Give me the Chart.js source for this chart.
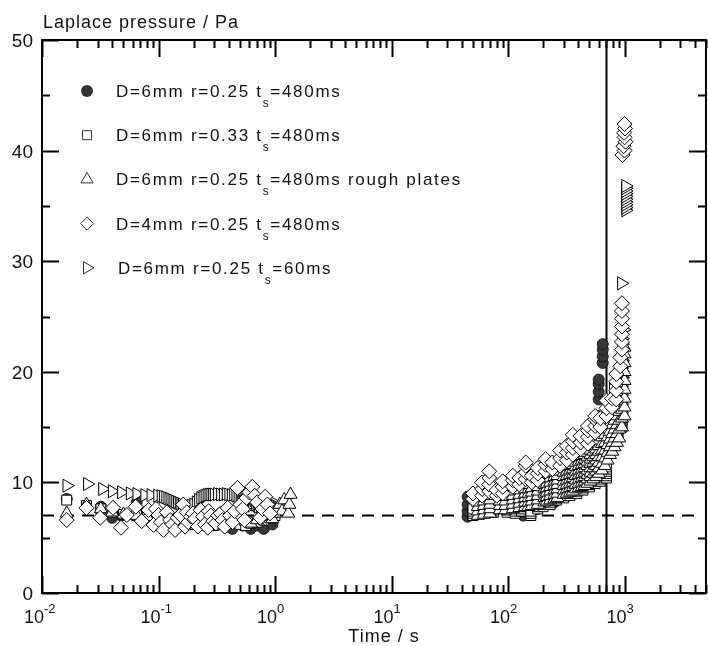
<!DOCTYPE html>
<html>
<head>
<meta charset="utf-8">
<script src="https://cdn.jsdelivr.net/npm/chart.js@4.4.1/dist/chart.umd.min.js"></script>
<style>
  html, body { margin: 0; padding: 0; background: #fff; overflow: hidden; }
  #wrap { width: 708px; height: 646px; }
</style>
</head>
<body>
<div id="wrap"><canvas id="chart"></canvas></div>
<script>
// axis ranges and ticks (the right axis of the figure sits just past the crop, at 5000 s)
const xMin = 0.01, xMax = 4400, xAxisEnd = 5000;
const yMin = 0, yMax = 50;
const yTicks = [0, 10, 20, 30, 40, 50];
const xDecades = [-2, -1, 0, 1, 2, 3];
const baseLine = 7;     // dashed line, Pa
const markTime = 700;   // vertical line, s

// [time in s, pressure in Pa]
const circlePts = [
  [0.0163, 8.5], [0.032, 7.8], [0.040, 6.8], [0.048, 7.0], [0.065, 8.2], [0.08, 7.4], [0.10, 7.0],
  [0.13, 6.7], [0.17, 6.5], [0.22, 6.4], [0.30, 6.3], [0.38, 6.0], [0.43, 5.8], [0.53, 6.1],
  [0.62, 5.8], [0.71, 6.1], [0.80, 5.8], [0.95, 6.2],
  [45, 6.9], [45, 7.4], [45, 8.0], [45, 8.7], [89, 7.8], [89, 8.3], [89, 8.7], [89, 9.0],
  [135, 7.0], [135, 7.4], [180, 7.6], [180, 8.3], [250, 8.2], [250, 9.0], [350, 9.0], [350, 10.0],
  [450, 10.2], [450, 11.3], [540, 12.0], [540, 13.2], [590, 14.5], [590, 16.0],
  [600, 17.5], [600, 18.2], [600, 18.9], [600, 19.3], [650, 20.8], [650, 21.4], [650, 22.0], [650, 22.5]
];

const squarePts = [
  [0.0163, 8.4], [0.0241, 7.9], [0.032, 7.6], [0.040, 7.3], [0.050, 7.1], [0.065, 7.0], [0.08, 6.8],
  [0.10, 6.6], [0.13, 6.4], [0.16, 6.3], [0.20, 6.2], [0.25, 6.1], [0.30, 6.1], [0.36, 6.2],
  [0.42, 6.3], [0.50, 6.2], [0.56, 6.1], [0.62, 6.3], [0.70, 6.4], [0.80, 6.6], [0.90, 6.8], [1.0, 7.0],
  [50, 7.0], [50, 7.2], [50, 7.4], [50, 7.6],
  [60, 7.2], [60, 7.4], [60, 7.6], [60, 7.8], [60, 8.0], [60, 8.2], [60, 8.4],
  [75, 7.3], [75, 7.5], [75, 7.7], [75, 7.9], [75, 8.1],
  [98, 7.3], [98, 7.5], [98, 7.7], [98, 7.9], [98, 8.1], [98, 8.3],
  [115, 7.2], [115, 7.4], [115, 7.6], [115, 7.8],
  [130, 7.4], [130, 7.6], [130, 7.8], [130, 8.0], [130, 8.2], [130, 8.4], [130, 8.6],
  [157, 7.0], [157, 7.2], [157, 7.4],
  [180, 7.6], [180, 7.8], [180, 8.0], [180, 8.2], [180, 8.4], [180, 8.6],
  [200, 7.8], [200, 8.0], [200, 8.2], [200, 8.4], [200, 8.6], [200, 8.8], [200, 9.0], [200, 9.2],
  [230, 8.0], [230, 8.2], [230, 8.4], [230, 8.6], [230, 8.8], [230, 9.0],
  [260, 8.4], [260, 8.6], [260, 8.8], [260, 9.0], [260, 9.2], [260, 9.4], [260, 9.6], [260, 9.8],
  [300, 8.6], [300, 8.8], [300, 9.0], [300, 9.2], [300, 9.4], [300, 9.6],
  [340, 8.8], [340, 9.0], [340, 9.2], [340, 9.4], [340, 9.6], [340, 9.8], [340, 10.0], [340, 10.2],
  [340, 10.4], [340, 10.6],
  [390, 9.0], [390, 9.2], [390, 9.4], [390, 9.6], [390, 9.8], [390, 10.0], [390, 10.2],
  [440, 9.3], [440, 9.5], [440, 9.7], [440, 9.9], [440, 10.1], [440, 10.3], [440, 10.5], [440, 10.7],
  [440, 10.9], [440, 11.1],
  [500, 9.6], [500, 9.8], [500, 10.0], [500, 10.2], [500, 10.4], [500, 10.6], [500, 10.8],
  [560, 9.9], [560, 10.1], [560, 10.3], [560, 10.5], [560, 10.7], [560, 10.9], [560, 11.1], [560, 11.3],
  [560, 11.5], [560, 11.7],
  [620, 10.1], [620, 10.3], [620, 10.5], [620, 10.7], [620, 10.9], [620, 11.1],
  [700, 10.4], [700, 10.6], [700, 10.8], [700, 11.0], [700, 11.2], [700, 11.4], [700, 11.6], [700, 11.8],
  [800, 13.5], [800, 13.8], [800, 14.1], [800, 14.4], [800, 14.7], [800, 15.0], [800, 15.3], [800, 15.6],
  [800, 15.9],
  [880, 14.5], [880, 14.8], [880, 15.1], [880, 15.4], [880, 15.7], [880, 16.0], [880, 16.3],
  [950, 15.0], [950, 15.3], [950, 15.6], [950, 15.9], [950, 16.2], [950, 16.5], [950, 16.8], [950, 17.1],
  [950, 17.4], [950, 17.7], [950, 18.0], [950, 18.3], [950, 18.6], [950, 18.9], [950, 19.2], [950, 19.5],
  [950, 19.8]
];

const trianglePts = [
  [0.0163, 7.2], [0.0241, 8.0], [0.032, 7.6], [0.040, 7.3], [0.050, 7.1], [0.065, 7.0], [0.08, 6.9],
  [0.10, 6.8], [0.13, 6.6], [0.16, 6.5], [0.20, 6.6], [0.25, 6.7], [0.30, 6.8], [0.36, 7.0], [0.42, 7.1],
  [0.50, 6.9], [0.56, 6.5], [0.62, 6.3], [0.70, 6.6], [0.80, 6.9], [0.90, 7.0], [0.95, 6.7], [1.0, 7.2],
  [1.05, 7.6], [1.10, 8.0], [1.15, 7.4], [1.20, 8.4], [1.30, 7.2], [1.33, 8.0], [1.36, 8.9],
  [55, 7.0], [55, 7.4], [55, 7.8], [55, 8.2], [55, 8.6], [55, 9.0],
  [62, 7.1], [62, 7.5], [62, 7.9], [62, 8.3], [62, 8.7],
  [70, 7.2], [70, 7.6], [70, 8.0], [70, 8.4], [70, 8.8],
  [85, 7.5], [85, 7.9], [85, 8.3], [85, 8.7],
  [95, 7.5], [95, 7.9], [95, 8.3], [95, 8.7], [95, 9.1],
  [110, 7.6], [110, 8.0], [110, 8.4], [110, 8.8], [110, 9.2], [110, 9.6],
  [125, 7.7], [125, 8.1], [125, 8.5], [125, 8.9], [125, 9.3],
  [140, 7.8], [140, 8.2], [140, 8.6], [140, 9.0], [140, 9.4], [140, 9.8],
  [150, 7.8], [150, 8.2], [150, 8.6], [150, 9.0], [150, 9.4], [150, 9.8],
  [160, 7.9], [160, 8.3], [160, 8.7], [160, 9.1], [160, 9.5],
  [180, 8.0], [180, 8.4], [180, 8.8], [180, 9.2], [180, 9.6], [180, 10.0], [180, 10.4],
  [205, 8.2], [205, 8.6], [205, 9.0], [205, 9.4], [205, 9.8], [205, 10.2],
  [215, 8.3], [215, 8.7], [215, 9.1], [215, 9.5], [215, 9.9], [215, 10.3], [215, 10.7],
  [230, 8.4], [230, 8.8], [230, 9.2], [230, 9.6], [230, 10.0], [230, 10.4], [230, 10.8], [230, 11.2],
  [250, 8.5], [250, 8.9], [250, 9.3], [250, 9.7], [250, 10.1], [250, 10.5], [250, 10.9],
  [265, 8.6], [265, 9.0], [265, 9.4], [265, 9.8], [265, 10.2], [265, 10.6], [265, 11.0],
  [300, 8.9], [300, 9.3], [300, 9.7], [300, 10.1], [300, 10.5], [300, 10.9], [300, 11.3], [300, 11.7],
  [320, 9.0], [320, 9.4], [320, 9.8], [320, 10.2], [320, 10.6], [320, 11.0], [320, 11.4], [320, 11.8],
  [340, 9.1], [340, 9.5], [340, 9.9], [340, 10.3], [340, 10.7], [340, 11.1], [340, 11.5], [340, 11.9],
  [360, 9.2], [360, 9.6], [360, 10.0], [360, 10.4], [360, 10.8], [360, 11.2], [360, 11.6], [360, 12.0], [360, 12.4],
  [380, 9.4], [380, 9.8], [380, 10.2], [380, 10.6], [380, 11.0], [380, 11.4], [380, 11.8], [380, 12.2], [380, 12.6],
  [405, 9.5], [405, 9.9], [405, 10.3], [405, 10.7], [405, 11.1], [405, 11.5], [405, 11.9], [405, 12.3], [405, 12.7],
  [430, 9.6], [430, 10.0], [430, 10.4], [430, 10.8], [430, 11.2], [430, 11.6], [430, 12.0], [430, 12.4], [430, 12.8],
  [455, 9.7], [455, 10.1], [455, 10.5], [455, 10.9], [455, 11.3], [455, 11.7], [455, 12.1], [455, 12.5],
  [455, 12.9], [455, 13.2],
  [480, 9.9], [480, 10.3], [480, 10.7], [480, 11.1], [480, 11.5], [480, 11.9], [480, 12.3], [480, 12.7],
  [480, 13.1], [480, 13.5],
  [510, 10.1], [510, 10.5], [510, 10.9], [510, 11.3], [510, 11.7], [510, 12.1], [510, 12.5], [510, 12.9],
  [510, 13.3], [510, 13.7],
  [540, 10.3], [540, 10.8], [540, 11.3], [540, 11.8], [540, 12.3], [540, 12.8], [540, 13.3], [540, 13.8],
  [570, 10.5], [570, 11.0], [570, 11.5], [570, 12.0], [570, 12.5], [570, 13.0], [570, 13.5], [570, 14.0],
  [600, 10.8], [600, 11.3], [600, 11.8], [600, 12.3], [600, 12.8], [600, 13.3], [600, 13.8], [600, 14.3],
  [640, 11.1], [640, 11.7], [640, 12.3], [640, 12.9], [640, 13.5], [640, 14.1], [640, 14.7], [640, 15.3],
  [680, 11.5], [680, 12.2], [680, 12.9], [680, 13.6], [680, 14.3], [680, 15.0], [680, 15.7],
  [715, 12.0], [715, 12.7], [715, 13.4], [715, 14.1], [715, 14.8], [715, 15.5], [715, 16.2], [715, 16.9],
  [750, 12.5], [750, 13.2], [750, 13.9], [750, 14.6], [750, 15.3], [750, 16.0], [750, 16.7], [750, 17.4],
  [785, 12.8], [785, 13.6], [785, 14.4], [785, 15.2], [785, 16.0], [785, 16.8], [785, 17.6],
  [820, 13.2], [820, 14.0], [820, 14.8], [820, 15.6], [820, 16.4], [820, 17.2], [820, 18.0],
  [860, 13.6], [860, 14.4], [860, 15.2], [860, 16.0], [860, 16.8], [860, 17.6], [860, 18.4], [860, 19.2],
  [900, 14.0], [900, 14.8], [900, 15.6], [900, 16.4], [900, 17.2], [900, 18.0], [900, 18.8], [900, 19.6], [900, 20.4],
  [950, 15.0], [950, 15.8], [950, 16.6], [950, 17.4], [950, 18.2], [950, 19.0], [950, 19.8], [950, 20.6], [950, 21.4],
  [1000, 16.0], [1000, 16.8], [1000, 17.6], [1000, 18.4], [1000, 19.2], [1000, 20.0], [1000, 20.8],
  [1000, 21.6], [1000, 22.2]
];

const diamondPts = [
  [0.0163, 6.6], [0.0241, 7.7], [0.0316, 6.8], [0.0407, 7.7], [0.0476, 5.9], [0.0535, 7.05], [0.0638, 7.8],
  [0.0718, 6.5], [0.0822, 7.5], [0.0907, 6.15], [0.095, 7.6], [0.100, 7.05], [0.105, 6.4], [0.110, 5.7],
  [0.118, 7.3], [0.126, 6.6], [0.132, 6.2], [0.139, 5.7], [0.146, 6.8], [0.154, 7.05], [0.163, 8.0],
  [0.169, 6.0], [0.175, 7.3], [0.180, 6.4], [0.19, 6.9], [0.198, 7.2], [0.205, 6.7], [0.218, 6.0],
  [0.23, 7.5], [0.241, 6.9], [0.25, 6.2], [0.265, 5.9], [0.27, 7.4], [0.281, 7.0], [0.295, 6.5],
  [0.310, 6.3], [0.325, 7.0], [0.342, 7.2], [0.355, 6.6], [0.370, 6.0], [0.392, 7.7], [0.41, 7.0],
  [0.432, 6.4], [0.45, 7.4], [0.476, 9.5], [0.505, 8.0], [0.53, 7.6], [0.546, 6.6], [0.57, 8.6],
  [0.602, 9.1], [0.638, 9.6], [0.67, 8.8], [0.703, 8.2], [0.746, 6.8], [0.78, 7.6], [0.822, 8.7],
  [0.86, 8.0], [0.907, 7.2],
  [50, 8.5], [50, 9.0], [60, 8.8], [60, 9.4], [60, 10.0], [69, 9.2], [69, 9.8], [69, 10.4], [69, 11.0],
  [80, 8.8], [80, 9.3], [90, 9.0], [90, 9.6], [90, 10.1], [110, 9.6], [110, 10.2], [110, 10.6],
  [125, 9.8], [125, 10.4], [142, 10.3], [142, 10.9], [142, 11.5], [142, 11.8], [160, 10.0], [160, 10.6],
  [180, 10.2], [180, 10.8], [180, 11.3], [210, 11.0], [210, 11.6], [210, 12.1], [240, 11.2], [240, 11.8],
  [280, 11.5], [280, 12.2], [280, 12.9], [320, 12.0], [320, 12.7], [320, 13.3], [360, 12.5], [360, 13.1],
  [360, 13.7], [360, 14.3], [420, 13.0], [420, 13.6], [420, 14.2], [485, 13.5], [485, 14.1], [485, 14.7],
  [485, 15.1], [560, 14.5], [560, 15.1], [560, 15.7], [560, 16.0], [620, 15.0], [620, 15.8],
  [700, 16.0], [700, 16.7], [700, 17.4], [780, 16.8], [780, 17.6], [850, 17.5], [850, 18.3], [850, 19.1],
  [850, 19.8], [920, 20.5], [920, 21.3], [950, 22.0], [950, 22.7], [950, 23.4], [950, 24.1], [950, 24.8],
  [950, 25.5], [950, 26.2],
  [960, 39.6], [1000, 40.0], [980, 40.4], [1020, 40.8], [1000, 41.2], [990, 41.6], [1010, 42.0], [1000, 42.4]
];

const rightTriPts = [
  [0.0163, 9.7], [0.0245, 9.85], [0.033, 9.4], [0.040, 9.2], [0.048, 9.1], [0.057, 9.0], [0.065, 8.95],
  [0.076, 8.85], [0.086, 8.85], [0.098, 8.8], [0.105, 8.75], [0.11, 8.7], [0.115, 8.65], [0.12, 8.55],
  [0.125, 8.5], [0.13, 8.4], [0.135, 8.35], [0.14, 8.25], [0.145, 8.2], [0.15, 8.1], [0.155, 8.05],
  [0.16, 8.0], [0.17, 7.9], [0.18, 7.85], [0.19, 7.9], [0.20, 8.0], [0.21, 8.2], [0.22, 8.4], [0.23, 8.6],
  [0.24, 8.7], [0.25, 8.8], [0.26, 8.85], [0.27, 8.9], [0.28, 8.9], [0.29, 8.9], [0.30, 8.9], [0.32, 8.95],
  [0.34, 8.9], [0.36, 8.9], [0.38, 8.95], [0.40, 8.9], [0.42, 8.85], [0.44, 8.9], [0.46, 8.8], [0.48, 8.6],
  [0.50, 8.4], [0.51, 8.8], [0.52, 8.7], [0.53, 8.3], [0.54, 8.2], [0.55, 8.9], [0.56, 8.5], [0.57, 8.1],
  [0.58, 8.0], [0.59, 8.7], [0.60, 8.6], [0.61, 8.2], [0.62, 8.3], [0.63, 7.9], [0.64, 8.1], [0.65, 8.6],
  [0.66, 8.4], [0.68, 8.0], [0.70, 7.9], [0.72, 7.8], [0.75, 7.7], [0.78, 7.6], [0.81, 7.5], [0.84, 7.7],
  [0.87, 7.9], [0.90, 8.1], [0.93, 8.3], [0.96, 8.0], [1.00, 7.8], [1.04, 7.6], [1.08, 7.5], [1.12, 7.4],
  [1.16, 7.6], [1.20, 7.8],
  [60, 7.5], [60, 8.0], [80, 7.6], [80, 8.2], [100, 7.8], [100, 8.4], [100, 8.9], [125, 7.9], [125, 8.6],
  [150, 8.0], [150, 8.5], [150, 9.0], [150, 9.4], [185, 8.2], [185, 8.7], [185, 9.2], [220, 8.4], [220, 8.9],
  [220, 9.4], [220, 10.0], [260, 8.7], [260, 9.2], [260, 9.7], [260, 10.2], [300, 9.0], [300, 9.5],
  [300, 10.0], [300, 10.4], [300, 10.8], [350, 9.4], [350, 9.9], [350, 10.4], [350, 10.9], [400, 9.8],
  [400, 10.3], [400, 10.8], [400, 11.2], [400, 11.6], [450, 10.2], [450, 10.7], [450, 11.3], [450, 11.8],
  [500, 10.6], [500, 11.2], [500, 11.8], [500, 12.2], [500, 12.6], [580, 11.3], [580, 11.9], [580, 12.5],
  [580, 13.1], [650, 12.0], [650, 12.5], [650, 13.0], [650, 13.5], [650, 14.0], [720, 13.0], [720, 13.8],
  [720, 14.5], [720, 15.2], [800, 14.0], [800, 14.8], [800, 15.5], [800, 16.2], [800, 17.0], [800, 17.8],
  [800, 18.5], [880, 16.5], [880, 17.2], [880, 18.0], [880, 18.8], [880, 19.5], [950, 19.0], [950, 19.5],
  [950, 20.0], [950, 20.5], [950, 21.0], [950, 21.5], [950, 22.0], [950, 22.5], [950, 23.0],
  [980, 23.8], [940, 28.0],
  [1020, 34.6], [1020, 34.85], [1020, 35.1], [1020, 35.35], [1020, 35.6], [1020, 35.85], [1020, 36.1],
  [1020, 36.35], [1020, 36.6], [1020, 36.8]
];

const legendRows = [
  { style: 'circle', head: 'D=6mm r=0.25 t', tail: '=480ms' },
  { style: 'rect', head: 'D=6mm r=0.33 t', tail: '=480ms' },
  { style: 'triangle', head: 'D=6mm r=0.25 t', tail: '=480ms rough plates' },
  { style: 'rectRot', head: 'D=4mm r=0.25 t', tail: '=480ms' },
  { style: 'rightTri', head: 'D=6mm r=0.25 t', tail: '=60ms' }
];

const FONT = '"Liberation Sans", Arial, sans-serif';

function toXY(pts) {
  return pts.map(p => ({ x: p[0], y: p[1] }));
}

function legendMarker(ctx, style, x, y) {
  ctx.beginPath();
  if (style === 'circle') {
    ctx.arc(x, y, 6, 0, Math.PI * 2);
    ctx.fillStyle = '#333';
    ctx.fill();
    return;
  }
  if (style === 'rect') {
    ctx.rect(x - 4.5, y - 4.5, 9, 9);
  } else if (style === 'triangle') {
    ctx.moveTo(x, y - 7);
    ctx.lineTo(x + 6.1, y + 3.5);
    ctx.lineTo(x - 6.1, y + 3.5);
    ctx.closePath();
  } else if (style === 'rectRot') {
    ctx.moveTo(x, y - 6.5);
    ctx.lineTo(x + 6.5, y);
    ctx.lineTo(x, y + 6.5);
    ctx.lineTo(x - 6.5, y);
    ctx.closePath();
  } else {
    ctx.moveTo(x + 7, y);
    ctx.lineTo(x - 3.5, y - 6.1);
    ctx.lineTo(x - 3.5, y + 6.1);
    ctx.closePath();
  }
  ctx.fillStyle = '#fff';
  ctx.fill();
  ctx.strokeStyle = '#333';
  ctx.lineWidth = 1;
  ctx.stroke();
}

const framePlugin = {
  id: 'framePlugin',
  beforeDatasetsDraw(chart) {
    const { ctx, chartArea: a, scales: { x, y } } = chart;
    ctx.save();
    ctx.strokeStyle = '#000';
    ctx.lineWidth = 2;
    // dashed reference line
    const yy = y.getPixelForValue(baseLine);
    ctx.setLineDash([12, 8]);
    ctx.beginPath();
    ctx.moveTo(a.left, yy);
    ctx.lineTo(a.right, yy);
    ctx.stroke();
    ctx.setLineDash([]);
    // vertical line
    const xx = x.getPixelForValue(markTime);
    ctx.beginPath();
    ctx.moveTo(xx, a.top);
    ctx.lineTo(xx, a.bottom);
    ctx.stroke();
    ctx.restore();
  },
  afterDraw(chart) {
    const { ctx, chartArea: a, scales: { x, y } } = chart;
    const right = x.getPixelForValue(xAxisEnd);
    ctx.save();
    ctx.strokeStyle = '#000';
    ctx.lineWidth = 2;
    ctx.strokeRect(a.left, a.top, right - a.left, a.bottom - a.top);

    // y ticks, inward on both sides
    ctx.beginPath();
    for (let v = yMin; v <= yMax; v += 5) {
      const py = Math.round(y.getPixelForValue(v)) + 0.5;
      const len = v % 10 === 0 ? 17 : 8;
      ctx.moveTo(a.left, py); ctx.lineTo(a.left + len, py);
      ctx.moveTo(right, py); ctx.lineTo(right - len, py);
    }
    // x ticks, inward on bottom and top
    xDecades.forEach(d => {
      for (let m = 1; m <= 9; m++) {
        const v = m * Math.pow(10, d);
        if (v > xAxisEnd) break;
        const px = Math.round(x.getPixelForValue(v)) + 0.5;
        const len = m === 1 ? 17 : 8;
        ctx.moveTo(px, a.bottom); ctx.lineTo(px, a.bottom - len);
        ctx.moveTo(px, a.top); ctx.lineTo(px, a.top + len);
      }
    });
    ctx.stroke();

    ctx.fillStyle = '#111';
    // y tick labels
    ctx.font = '19px ' + FONT;
    ctx.textAlign = 'right';
    ctx.textBaseline = 'alphabetic';
    yTicks.forEach(v => {
      ctx.fillText(String(v), a.left - 9, y.getPixelForValue(v) + 7);
    });
    // x tick labels 10^n
    xDecades.forEach(d => {
      const px = x.getPixelForValue(Math.pow(10, d));
      ctx.font = '18px ' + FONT;
      ctx.textAlign = 'right';
      ctx.fillText('10', px + 2, a.bottom + 30);
      ctx.font = '13px ' + FONT;
      ctx.textAlign = 'left';
      ctx.fillText(String(d), px + 2, a.bottom + 20);
    });

    // axis titles
    ctx.font = '18px ' + FONT;
    ctx.letterSpacing = '1px';
    ctx.textAlign = 'left';
    ctx.fillText('Laplace pressure / Pa', 43, 28);
    ctx.textAlign = 'center';
    ctx.fillText('Time / s', 384, 642);

    // legend
    ctx.letterSpacing = '1.7px';
    legendRows.forEach((row, i) => {
      const cy = 91 + i * 44.2;
      legendMarker(ctx, row.style, 87, cy);
      const tx = i === 4 ? 118 : 116;
      ctx.fillStyle = '#111';
      ctx.textAlign = 'left';
      ctx.font = '17px ' + FONT;
      ctx.fillText(row.head, tx, cy + 6);
      const w = ctx.measureText(row.head).width;
      ctx.font = '12px ' + FONT;
      ctx.fillText('s', tx + w, cy + 16);
      const sw = ctx.measureText('s').width;
      ctx.font = '17px ' + FONT;
      ctx.fillText(row.tail, tx + w + sw, cy + 6);
    });
    ctx.restore();
  }
};

const openStyle = { backgroundColor: '#fff', borderColor: '#000', borderWidth: 1 };

new Chart(document.getElementById('chart'), {
  type: 'scatter',
  data: {
    datasets: [
      { label: 'D=6mm r=0.25 ts=480ms', data: toXY(circlePts), pointStyle: 'circle',
        pointRadius: 5.5, backgroundColor: '#383838', borderColor: '#1a1a1a', borderWidth: 1, order: 5 },
      Object.assign({ label: 'D=6mm r=0.33 ts=480ms', data: toXY(squarePts), pointStyle: 'rect',
        pointRadius: 7, order: 4 }, openStyle),
      Object.assign({ label: 'D=6mm r=0.25 ts=480ms rough plates', data: toXY(trianglePts), pointStyle: 'triangle',
        pointRadius: 7.5, order: 2 }, openStyle),
      Object.assign({ label: 'D=4mm r=0.25 ts=480ms', data: toXY(diamondPts), pointStyle: 'rectRot',
        pointRadius: 7.5, order: 1 }, openStyle),
      Object.assign({ label: 'D=6mm r=0.25 ts=60ms', data: toXY(rightTriPts), pointStyle: 'triangle',
        rotation: 90, pointRadius: 7.5, order: 3 }, openStyle)
    ]
  },
  options: {
    responsive: true,
    maintainAspectRatio: false,
    animation: false,
    layout: { padding: { left: 42, top: 40, right: 0, bottom: 53 } },
    plugins: { legend: { display: false }, tooltip: { enabled: false } },
    scales: {
      x: { type: 'logarithmic', min: xMin, max: xMax, display: false },
      y: { type: 'linear', min: yMin, max: yMax, display: false }
    }
  },
  plugins: [framePlugin]
});
</script>
</body>
</html>
